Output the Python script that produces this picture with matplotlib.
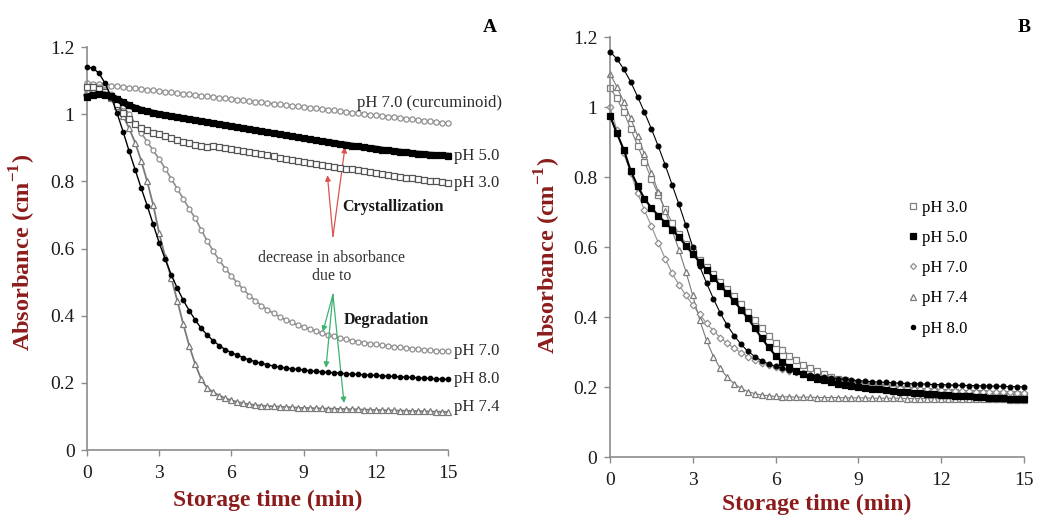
import numpy as np
import matplotlib
matplotlib.use("Agg")
import matplotlib.pyplot as plt
from matplotlib.ticker import FuncFormatter

plt.rcParams['font.family'] = ['Liberation Serif', 'DejaVu Serif']
plt.rcParams['mathtext.fontset'] = 'custom'
plt.rcParams['mathtext.rm'] = 'Liberation Serif'
plt.rcParams['mathtext.bf'] = 'Liberation Serif:bold'

# sampling times (min), one reading every 15 s
t = np.arange(61) * 0.25

# --- A: absorbance of the dispersions (cm-1) ---
a_cur70 = [1.092, 1.090, 1.089, 1.087, 1.085, 1.083, 1.081, 1.079, 1.077, 1.075,
           1.073, 1.071, 1.069, 1.067, 1.065, 1.063, 1.061, 1.059, 1.057, 1.055,
           1.053, 1.051, 1.049, 1.047, 1.045, 1.043, 1.041, 1.039, 1.037, 1.035,
           1.033, 1.031, 1.029, 1.027, 1.025, 1.023, 1.021, 1.019, 1.017, 1.015,
           1.013, 1.011, 1.009, 1.007, 1.005, 1.003, 1.001, 0.999, 0.997, 0.995,
           0.993, 0.991, 0.989, 0.987, 0.985, 0.983, 0.981, 0.979, 0.977, 0.975, 0.973]
a_ph50 = [1.052, 1.056, 1.059, 1.058, 1.053, 1.045, 1.035, 1.026, 1.019, 1.013,
          1.008, 1.004, 1.000, 0.997, 0.994, 0.991, 0.988, 0.985, 0.982, 0.979,
          0.976, 0.973, 0.970, 0.967, 0.964, 0.961, 0.958, 0.955, 0.952, 0.949,
          0.946, 0.943, 0.940, 0.937, 0.934, 0.931, 0.928, 0.925, 0.922, 0.919,
          0.917, 0.914, 0.911, 0.909, 0.906, 0.904, 0.901, 0.899, 0.897, 0.894,
          0.892, 0.890, 0.888, 0.886, 0.884, 0.882, 0.881, 0.879, 0.878, 0.877, 0.876]
a_ph30 = [1.082, 1.080, 1.075, 1.065, 1.050, 1.030, 1.005, 0.985, 0.970, 0.960,
          0.952, 0.945, 0.940, 0.934, 0.928, 0.922, 0.917, 0.913, 0.909, 0.906,
          0.903, 0.905, 0.902, 0.898, 0.895, 0.892, 0.889, 0.886, 0.883, 0.880,
          0.877, 0.874, 0.871, 0.868, 0.865, 0.862, 0.859, 0.856, 0.853, 0.850,
          0.847, 0.844, 0.841, 0.838, 0.836, 0.833, 0.830, 0.827, 0.825, 0.822,
          0.819, 0.817, 0.814, 0.811, 0.809, 0.807, 0.804, 0.802, 0.800, 0.797, 0.795]
a_ph70 = [1.080, 1.082, 1.080, 1.072, 1.060, 1.045, 1.025, 1.000, 0.972, 0.945,
          0.918, 0.892, 0.866, 0.838, 0.808, 0.778, 0.748, 0.718, 0.690, 0.655,
          0.622, 0.592, 0.565, 0.540, 0.518, 0.497, 0.478, 0.460, 0.444, 0.430,
          0.418, 0.407, 0.397, 0.388, 0.380, 0.373, 0.366, 0.360, 0.354, 0.348,
          0.343, 0.338, 0.334, 0.330, 0.326, 0.323, 0.320, 0.317, 0.315, 0.312,
          0.310, 0.308, 0.306, 0.304, 0.302, 0.300, 0.298, 0.297, 0.296, 0.295, 0.294]
a_ph80 = [1.140, 1.137, 1.122, 1.092, 1.052, 1.003, 0.948, 0.890, 0.835, 0.780,
          0.728, 0.672, 0.617, 0.568, 0.522, 0.482, 0.446, 0.415, 0.387, 0.362,
          0.342, 0.325, 0.311, 0.299, 0.290, 0.282, 0.275, 0.268, 0.263, 0.258,
          0.254, 0.250, 0.247, 0.244, 0.242, 0.240, 0.238, 0.236, 0.234, 0.233,
          0.231, 0.230, 0.229, 0.227, 0.226, 0.225, 0.224, 0.223, 0.222, 0.221,
          0.220, 0.219, 0.218, 0.217, 0.216, 0.215, 0.214, 0.213, 0.212, 0.211, 0.210]
a_ph74 = [1.072, 1.074, 1.070, 1.062, 1.048, 1.025, 0.995, 0.958, 0.915, 0.862,
          0.800, 0.730, 0.645, 0.575, 0.512, 0.445, 0.375, 0.310, 0.255, 0.210,
          0.185, 0.172, 0.162, 0.154, 0.148, 0.143, 0.139, 0.136, 0.134, 0.132,
          0.131, 0.130, 0.129, 0.128, 0.127, 0.126, 0.125, 0.125, 0.124, 0.124,
          0.123, 0.123, 0.122, 0.122, 0.121, 0.121, 0.120, 0.120, 0.119, 0.119,
          0.118, 0.118, 0.117, 0.117, 0.116, 0.116, 0.115, 0.115, 0.114, 0.114, 0.113]

# --- B: absorbance of the dispersions (cm-1) ---
b_ph30 = [1.055, 1.025, 0.985, 0.938, 0.890, 0.843, 0.795, 0.750, 0.708, 0.670,
          0.638, 0.610, 0.586, 0.564, 0.543, 0.522, 0.501, 0.480, 0.459, 0.437,
          0.415, 0.392, 0.369, 0.347, 0.326, 0.307, 0.290, 0.276, 0.264, 0.254,
          0.245, 0.237, 0.230, 0.224, 0.219, 0.214, 0.210, 0.206, 0.203, 0.201,
          0.199, 0.197, 0.195, 0.193, 0.192, 0.190, 0.189, 0.188, 0.187, 0.186,
          0.185, 0.184, 0.183, 0.182, 0.182, 0.181, 0.180, 0.180, 0.179, 0.179, 0.178]
b_ph50 = [0.975, 0.925, 0.878, 0.818, 0.775, 0.738, 0.712, 0.690, 0.670, 0.650,
          0.628, 0.604, 0.580, 0.557, 0.534, 0.512, 0.490, 0.468, 0.445, 0.421,
          0.396, 0.368, 0.340, 0.313, 0.290, 0.272, 0.258, 0.247, 0.238, 0.230,
          0.224, 0.219, 0.214, 0.210, 0.206, 0.203, 0.200, 0.197, 0.195, 0.193,
          0.191, 0.189, 0.187, 0.185, 0.183, 0.182, 0.180, 0.179, 0.177, 0.176,
          0.175, 0.174, 0.173, 0.172, 0.171, 0.170, 0.169, 0.168, 0.167, 0.166, 0.165]
b_ph70 = [1.000, 0.935, 0.868, 0.812, 0.755, 0.705, 0.660, 0.612, 0.567, 0.525,
          0.492, 0.462, 0.434, 0.408, 0.382, 0.360, 0.341, 0.325, 0.311, 0.298,
          0.287, 0.278, 0.270, 0.263, 0.258, 0.252, 0.247, 0.242, 0.237, 0.232,
          0.228, 0.224, 0.220, 0.217, 0.214, 0.211, 0.208, 0.206, 0.204, 0.202,
          0.200, 0.199, 0.197, 0.196, 0.195, 0.194, 0.193, 0.192, 0.191, 0.190,
          0.189, 0.189, 0.188, 0.187, 0.187, 0.186, 0.186, 0.185, 0.185, 0.184, 0.184]
b_ph74 = [1.095, 1.058, 1.015, 0.968, 0.918, 0.866, 0.812, 0.758, 0.703, 0.648,
          0.592, 0.530, 0.462, 0.392, 0.333, 0.287, 0.253, 0.228, 0.209, 0.196,
          0.187, 0.181, 0.177, 0.175, 0.173, 0.172, 0.172, 0.171, 0.171, 0.171,
          0.170, 0.170, 0.170, 0.170, 0.169, 0.169, 0.169, 0.169, 0.168, 0.168,
          0.168, 0.168, 0.168, 0.167, 0.167, 0.167, 0.167, 0.167, 0.166, 0.166,
          0.166, 0.166, 0.166, 0.165, 0.165, 0.165, 0.165, 0.165, 0.164, 0.164, 0.164]
b_ph80 = [1.158, 1.138, 1.108, 1.072, 1.030, 0.985, 0.938, 0.888, 0.835, 0.778,
          0.722, 0.662, 0.600, 0.545, 0.497, 0.452, 0.411, 0.376, 0.347, 0.322,
          0.302, 0.287, 0.275, 0.266, 0.259, 0.253, 0.248, 0.243, 0.239, 0.235,
          0.232, 0.229, 0.226, 0.224, 0.222, 0.220, 0.218, 0.217, 0.215, 0.214,
          0.213, 0.212, 0.211, 0.210, 0.209, 0.209, 0.208, 0.207, 0.207, 0.206,
          0.205, 0.205, 0.204, 0.204, 0.203, 0.203, 0.202, 0.202, 0.201, 0.201, 0.200]

RED = '#8c1c1c'
TICK_GREY = '#8c8c8c'


def style_axes(ax):
    ax.set_xlim(0, 15)
    ax.set_ylim(0, 1.2)
    ax.set_xticks(range(0, 16, 3))
    ax.set_yticks(np.arange(0, 1.21, 0.2))
    ax.yaxis.set_major_formatter(FuncFormatter(lambda v, p: f'{v:g}'))
    for s in ['top', 'right']:
        ax.spines[s].set_visible(False)
    for s in ['left', 'bottom']:
        ax.spines[s].set_color(TICK_GREY)
        ax.spines[s].set_linewidth(1.2)
    ax.tick_params(direction='out', length=4, width=1, color=TICK_GREY,
                   labelsize=14, labelcolor='#1a1a1a')
    ax.tick_params(axis='x', pad=7)
    ax.tick_params(axis='y', pad=5)
    ax.set_xlabel('Storage time (min)', fontsize=17, fontweight='bold',
                  color=RED, va='center')
    ax.set_ylabel(r'Absorbance (cm$^{\mathbf{-1}}$)', fontsize=17.5,
                  fontweight='bold', color=RED, va='center')


def series(ax, y, marker, color, ms, filled, lw=1.0, label=None, z=2):
    face = color if filled else 'white'
    ax.plot(t, y, '-', color=color, lw=lw, zorder=z, clip_on=False)
    ax.plot(t, y, ls='none', marker=marker, ms=ms, mfc=face, mec=color,
            mew=0.9, zorder=z + 0.5, clip_on=False, label=label)


fig = plt.figure(figsize=(10.37, 5.15), dpi=100)
axA = fig.add_axes([0.0839, 0.1262, 0.3481, 0.7825])
axB = fig.add_axes([0.5882, 0.1126, 0.3992, 0.8155])

# ---------- panel A ----------
style_axes(axA)
axA.xaxis.set_label_coords(0.5, -0.124)
axA.yaxis.set_label_coords(-0.178, 0.49)

series(axA, a_cur70, 'o', '#8f8f8f', 3.8, False, lw=1.4)
series(axA, a_ph50, 's', 'black', 4.4, True, lw=4.5, z=4)
series(axA, a_ph30, 's', '#555555', 3.8, False, lw=1.3, z=3)
series(axA, a_ph70, 'o', '#8f8f8f', 3.6, False, lw=1.2)
series(axA, a_ph74, '^', '#7a7a7a', 3.8, False, lw=1.3)
series(axA, a_ph80, 'o', 'black', 3.2, True, lw=1.0, z=4)

lab = dict(fontsize=12, color='#2a2a2a', va='center', ha='left',
           textcoords='offset points', annotation_clip=False)
axA.text(11.22, 1.033, 'pH 7.0 (curcuminoid)', fontsize=12, color='#2a2a2a',
         va='center', ha='left')
axA.annotate('pH 5.0', (t[-1], a_ph50[-1]), xytext=(4, 0), **lab)
axA.annotate('pH 3.0', (t[-1], a_ph30[-1]), xytext=(4, 0), **lab)
axA.annotate('pH 7.0', (t[-1], a_ph70[-1]), xytext=(4, 0), **lab)
axA.annotate('pH 8.0', (t[-1], a_ph80[-1]), xytext=(4, 0), **lab)
axA.annotate('pH 7.4', (t[-1], a_ph74[-1]), xytext=(4, 4), **lab)

# crystallization arrows (red) and degradation arrows (green)
red_arrow = dict(arrowstyle='-|>', color='#d9534f', lw=0.9, mutation_scale=8,
                 shrinkA=0, shrinkB=0)
for tip in [(9.99, 0.818), (10.72, 0.902)]:
    axA.annotate('', xy=tip, xytext=(10.22, 0.636), arrowprops=red_arrow)
green_arrow = dict(arrowstyle='-|>', color='#3cb371', lw=0.9, mutation_scale=8,
                   shrinkA=0, shrinkB=0)
for tip in [(9.80, 0.352), (9.93, 0.245), (10.68, 0.140)]:
    axA.annotate('', xy=tip, xytext=(10.22, 0.463), arrowprops=green_arrow)

axA.text(12.71, 0.725, 'Crystallization', fontsize=11.5, fontweight='bold',
         ha='center', va='center', color='#1a1a1a')
axA.text(10.18, 0.545, 'decrease in absorbance\ndue to', fontsize=11.5,
         ha='center', va='center', color='#333333', linespacing=1.2)
axA.text(12.42, 0.388, 'Degradation', fontsize=11.5, fontweight='bold',
         ha='center', va='center', color='#1a1a1a')

# ---------- panel B ----------
style_axes(axB)
axB.xaxis.set_label_coords(0.5, -0.114)
axB.yaxis.set_label_coords(-0.15, 0.48)

series(axB, b_ph30, 's', '#7f7f7f', 4.2, False, lw=0.8, label='pH 3.0')
series(axB, b_ph50, 's', 'black', 4.2, True, lw=1.5, label='pH 5.0', z=4)
series(axB, b_ph70, 'D', '#8f8f8f', 3.4, False, lw=0.8, label='pH 7.0')
series(axB, b_ph74, '^', '#7a7a7a', 4.2, False, lw=0.8, label='pH 7.4')
series(axB, b_ph80, 'o', 'black', 3.4, True, lw=0.8, label='pH 8.0', z=4)

axB.legend(loc='upper left', bbox_to_anchor=(0.705, 0.628), frameon=False,
           fontsize=12, handlelength=0.6, handletextpad=0.2, labelspacing=0.85,
           borderaxespad=0, markerscale=0.9)

fig.text(0.4725, 0.947, 'A', fontsize=14, fontweight='bold', ha='center', va='center')
fig.text(0.988, 0.947, 'B', fontsize=14, fontweight='bold', ha='center', va='center')

fig.savefig('out.png', dpi=100)
